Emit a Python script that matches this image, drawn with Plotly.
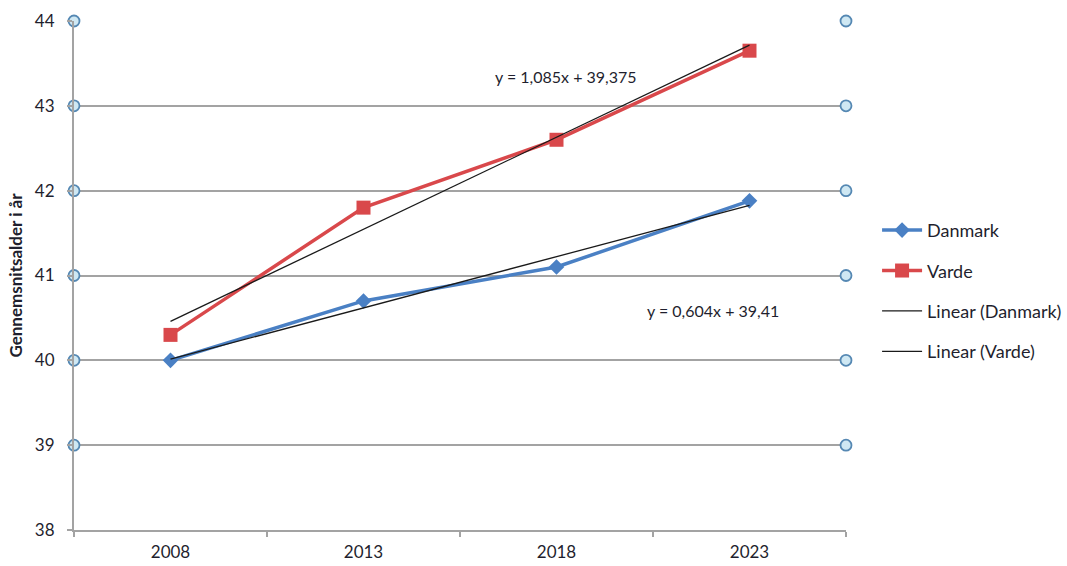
import plotly.graph_objects as go

# Average age by year, Denmark vs. Varde municipality
years = ["2008", "2013", "2018", "2023"]
danmark = [40.0, 40.7, 41.1, 41.88]
varde = [40.3, 41.8, 42.6, 43.65]

# Linear trend coefficients (x = 1..4)
trend_danmark = (0.604, 39.41)
trend_varde = (1.085, 39.375)

x_idx = list(range(1, len(years) + 1))
grid_vals = [39, 40, 41, 42, 43, 44]

FONT = "Lato, Open Sans, sans-serif"
TXT = "#1f1f2e"
AXIS = "#a3a3a3"


def fmt(v, nd):
    s = f"{v:.{nd}f}".rstrip("0").rstrip(".")
    return s.replace(".", ",")


fig = go.Figure()

fig.add_trace(go.Scatter(
    x=x_idx, y=danmark, name="Danmark", mode="lines+markers",
    line=dict(color="#4a80c4", width=3.5),
    marker=dict(symbol="diamond", size=12, color="#4a80c4"),
    legendgroup="a",
))
fig.add_trace(go.Scatter(
    x=x_idx, y=varde, name="Varde", mode="lines+markers",
    line=dict(color="#d9484b", width=3.5),
    marker=dict(symbol="square", size=14, color="#d9484b"),
    legendgroup="b",
))

for (slope, icpt), label, grp in [(trend_danmark, "Linear (Danmark)", "c"),
                                  (trend_varde, "Linear (Varde)", "d")]:
    fig.add_trace(go.Scatter(
        x=[x_idx[0], x_idx[-1]],
        y=[slope * x_idx[0] + icpt, slope * x_idx[-1] + icpt],
        name=label, mode="lines",
        line=dict(color="#1a1a1a", width=1.3),
        legendgroup=grp,
    ))

# Round markers at both ends of each gridline
fig.add_trace(go.Scatter(
    x=[0.5] * len(grid_vals) + [4.5] * len(grid_vals),
    y=grid_vals + grid_vals,
    mode="markers", showlegend=False, hoverinfo="skip", cliponaxis=False,
    marker=dict(symbol="circle", size=11, color="#cfe8f3",
                line=dict(color="#5588b3", width=1.8)),
))

fig.add_annotation(
    x=3.05, y=43.35, xref="x", yref="y", showarrow=False,
    text=f"y = {fmt(trend_varde[0], 3)}x + {fmt(trend_varde[1], 3)}",
    font=dict(family=FONT, size=16, color=TXT),
)
fig.add_annotation(
    x=3.81, y=40.59, xref="x", yref="y", showarrow=False,
    text=f"y = {fmt(trend_danmark[0], 3)}x + {fmt(trend_danmark[1], 3)}",
    font=dict(family=FONT, size=16, color=TXT),
)

fig.update_layout(
    width=1067, height=566,
    margin=dict(l=74, r=221, t=21, b=36, autoexpand=False),
    paper_bgcolor="white", plot_bgcolor="white",
    font=dict(family=FONT, size=16, color=TXT),
    showlegend=True,
    legend=dict(
        xref="container", yref="container",
        x=0.822, y=0.486, xanchor="left", yanchor="middle",
        font=dict(family=FONT, size=18, color=TXT),
        tracegroupgap=14, itemwidth=40, bgcolor="rgba(0,0,0,0)",
    ),
    xaxis=dict(
        range=[0.5, 4.5], tickvals=x_idx, ticktext=years,
        showgrid=False, zeroline=False, automargin=False,
        showline=True, linecolor=AXIS, linewidth=2,
        ticks="", ticklabelstandoff=6,
        tickfont=dict(family=FONT, size=17, color=TXT),
        minor=dict(tick0=0.5, dtick=1, ticks="outside", ticklen=5,
                   tickcolor=AXIS, tickwidth=2, showgrid=False),
    ),
    yaxis=dict(
        range=[38, 44], tickvals=[38, 39, 40, 41, 42, 43, 44],
        showgrid=True, gridcolor=AXIS, gridwidth=1.8, zeroline=False,
        automargin=False,
        showline=True, linecolor=AXIS, linewidth=2,
        ticks="outside", ticklen=5, tickcolor=AXIS, tickwidth=2,
        ticklabelstandoff=9,
        tickfont=dict(family=FONT, size=17, color=TXT),
        title=dict(text="<b>Gennemsnitsalder i år</b>", standoff=8,
                   font=dict(family=FONT, size=17, color=TXT)),
    ),
)

fig.write_html("out.html")
